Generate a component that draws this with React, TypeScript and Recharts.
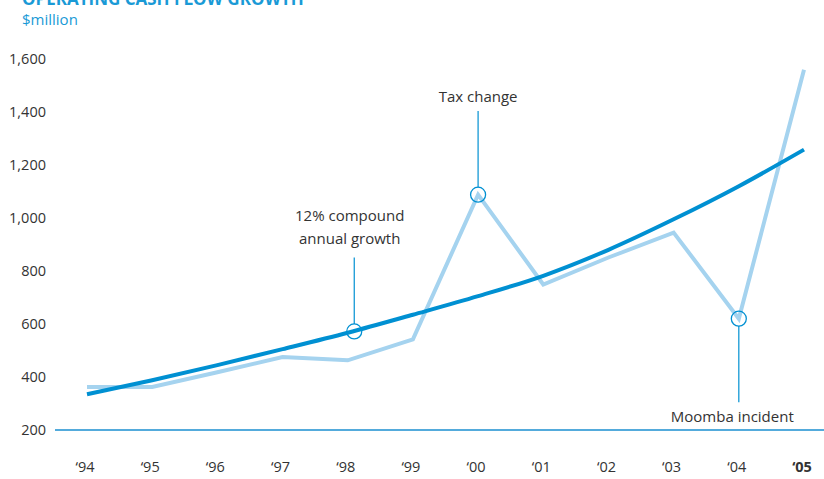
import {
  LineChart,
  Line,
  XAxis,
  YAxis,
  ReferenceLine,
  ReferenceDot,
} from "recharts";

const years = [1994, 1995, 1996, 1997, 1998, 1999, 2000, 2001, 2002, 2003, 2004, 2005];
const cashFlow = [362, 362, 418, 475, 463, 542, 1088, 749, 851, 945, 620, 1559];
const trend = [335, 388, 445, 505, 567, 635, 705, 782, 880, 995, 1120, 1258];
const yTicks = [200, 400, 600, 800, 1000, 1200, 1400, 1600];

// annotation markers: [year, value on line, leader end value]
const markers = [
  { x: 1998.1, y: 572, lineTo: 851 },
  { x: 2000, y: 1088, lineTo: 1404 },
  { x: 2004, y: 620, lineTo: 305 },
];
const notes = [
  { x: 1998.03, y: 1009, lines: ["12% compound", "annual growth"] },
  { x: 2000, y: 1457, lines: ["Tax change"] },
  { x: 2003.9, y: 249, lines: ["Moomba incident"] },
];

const data = years.map((year, i) => ({ year, cashFlow: cashFlow[i], trend: trend[i] }));

const FONT = "'Open Sans', sans-serif";
const DARK = "#0090d2";
const LIGHT = "#a5d3ef";
const TEXT = "#333";

const YTick = (props: any) => (
  <text x={46} y={props.y} dy={5} textAnchor="end" fontSize={14.5} fill={TEXT} fontFamily={FONT}>
    {props.payload.value.toLocaleString("en-US")}
  </text>
);

const XTick = (props: any) => {
  const v = props.payload.value;
  return (
    <text
      x={props.x - 2}
      y={472}
      textAnchor="middle"
      fontSize={14.5}
      fill={TEXT}
      fontWeight={v === 2005 ? 700 : 400}
      fontFamily={FONT}
    >
      {"\u2018" + String(v).slice(2)}
    </text>
  );
};

const NoteText = (lines: string[]) => (props: any) => (
  <text x={props.cx} y={props.cy} textAnchor="middle" fontSize={15} fill={TEXT} fontFamily={FONT}>
    {lines.map((l, i) => (
      <tspan key={i} x={props.cx} dy={i === 0 ? 5 : 23}>
        {l}
      </tspan>
    ))}
  </text>
);

export default function App() {
  return (
    <div style={{ position: "absolute", left: 0, top: 0, width: 824, height: 479, background: "#fff", overflow: "hidden" }}>
      <div
        style={{
          position: "absolute",
          left: 22,
          top: -11,
          fontFamily: FONT,
          fontWeight: 700,
          fontSize: 17,
          color: "#1a9ad6",
          lineHeight: "20px",
        }}
      >
        OPERATING CASH FLOW GROWTH
      </div>
      <div
        style={{
          position: "absolute",
          left: 22,
          top: 9,
          fontFamily: FONT,
          fontSize: 15,
          color: "#1a9ad6",
          lineHeight: "20px",
        }}
      >
        $million
      </div>
      <LineChart width={824} height={479} data={data} margin={{ top: 59, right: 0, left: 0, bottom: 0 }}>
        <XAxis
          dataKey="year"
          type="number"
          domain={[1994, 2005]}
          ticks={years}
          padding={{ left: 32, right: 20 }}
          axisLine={false}
          tickLine={false}
          height={49}
          tick={<XTick />}
          interval={0}
        />
        <YAxis
          domain={[200, 1600]}
          ticks={yTicks}
          axisLine={false}
          tickLine={false}
          width={55}
          tick={<YTick />}
          interval={0}
        />
        <ReferenceLine y={200} stroke="#1a8fd0" strokeWidth={1.5} />
        <Line
          dataKey="cashFlow"
          stroke={LIGHT}
          strokeWidth={4}
          dot={false}
          type="linear"
          isAnimationActive={false}
        />
        <Line
          dataKey="trend"
          stroke={DARK}
          strokeWidth={4}
          dot={false}
          type="monotone"
          isAnimationActive={false}
        />
        {markers.map((m, i) => (
          <ReferenceLine
            key={"l" + i}
            segment={[
              { x: m.x, y: m.lineTo },
              { x: m.x, y: m.lineTo > m.y ? m.y + 28 : m.y - 28 },
            ]}
            stroke={DARK}
            strokeWidth={1.2}
          />
        ))}
        {markers.map((m, i) => (
          <ReferenceDot key={"d" + i} x={m.x} y={m.y} r={7.5} fill="none" stroke={DARK} strokeWidth={1.3} />
        ))}
        {notes.map((n, i) => (
          <ReferenceDot key={"n" + i} x={n.x} y={n.y} r={0} shape={NoteText(n.lines)} />
        ))}
      </LineChart>
    </div>
  );
}
